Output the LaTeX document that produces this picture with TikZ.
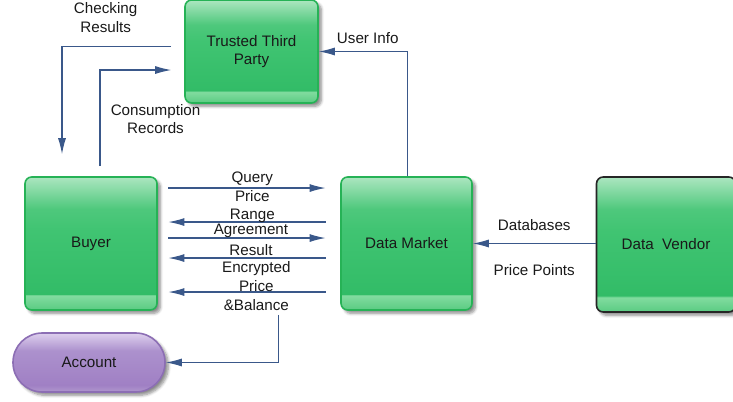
\documentclass[tikz,border=0pt]{standalone}
\usepackage{fontspec}
\setmainfont{Liberation Sans}
\usepackage{tikz}
\usetikzlibrary{arrows.meta, positioning, calc, shadows.blur}
\definecolor{flow_blue}{RGB}{58,88,138}
\colorlet{flowblue}{flow_blue}
\definecolor{box_green}{RGB}{38,178,86}
\colorlet{boxgreen}{box_green}
\definecolor{acc_purple}{RGB}{140,110,180}
\colorlet{accpurple}{acc_purple}
\pgfdeclareverticalshading{glossgreen}{100bp}{color(0bp)=(rgb,255:red,90;green,203;blue,130); color(25bp)=(rgb,255:red,90;green,203;blue,130); color(30.5bp)=(rgb,255:red,130;green,220;blue,160); color(31bp)=(rgb,255:red,50;green,188;blue,103); color(55bp)=(rgb,255:red,64;green,196;blue,114); color(63bp)=(rgb,255:red,78;green,200;blue,124); color(75bp)=(rgb,255:red,172;green,230;blue,192); color(100bp)=(rgb,255:red,172;green,230;blue,192)}
\pgfdeclareverticalshading{glosspurple}{100bp}{color(0bp)=(rgb,255:red,175;green,150;blue,205); color(25bp)=(rgb,255:red,175;green,150;blue,205); color(31bp)=(rgb,255:red,160;green,128;blue,196); color(60bp)=(rgb,255:red,172;green,145;blue,205); color(75bp)=(rgb,255:red,222;green,208;blue,238); color(100bp)=(rgb,255:red,222;green,208;blue,238)}
\newcommand{\diagfont}{\fontsize{11.4}{14}\selectfont}
\tikzset{
  block/.style={rectangle,rounded corners=5pt,draw=boxgreen,line width=1.2pt,shading=glossgreen,blur shadow={shadow xshift=2.5pt,shadow yshift=-2.5pt,shadow blur steps=6,shadow opacity=45},text=black!90,font=\diagfont,align=center},
  vendor/.style={block,draw=black!85},
  account/.style={rectangle,rounded corners=22pt,draw=accpurple,line width=1.2pt,shading=glosspurple,blur shadow={shadow xshift=2.5pt,shadow yshift=-2.5pt,shadow blur steps=6,shadow opacity=45},text=black!90,font=\diagfont,minimum width=114pt,minimum height=44.25pt},
  flow/.style={draw=flowblue,line width=0.8pt,-{Latex[length=12pt,width=6pt]}},
  msg/.style={font=\diagfont,text=black!90,align=center,inner sep=0pt},
}

\begin{document}
\begin{tikzpicture}[x=0.75pt,y=-0.75pt]
    \useasboundingbox (0,0) rectangle (733,402);
    \node[block,minimum width=99.75pt,minimum height=77.25pt] (TTP) at (251.5,51.5) {Trusted Third\\Party};
    \node[block,minimum width=99pt,minimum height=99.75pt] (BUYER) at (91,243.5) {Buyer};
    \node[block,minimum width=98.25pt,minimum height=99.75pt] (MARKET) at (406.5,243.5) {Data Market};
    \node[vendor,minimum width=104.25pt,minimum height=101.25pt] (VENDOR) at (666,244.5) {Data\ \ Vendor};
    \node[account] (ACCOUNT) at (89,362.5) {Account};
    \draw[flow] ([xshift=8pt,yshift=41.6pt]BUYER.east) -- node[msg,xshift=4pt,yshift=6.75pt] (QUERY) {Query} ([xshift=-11pt,yshift=41.6pt]MARKET.west);
    \draw[flow] ([xshift=-11pt,yshift=16.1pt]MARKET.west) -- node[msg,xshift=4pt,yshift=11.6pt] (RANGE) {Price\\Range} ([xshift=8pt,yshift=16.1pt]BUYER.east);
    \draw[flow] ([xshift=8pt,yshift=4.1pt]BUYER.east) -- node[msg,xshift=3pt,yshift=5.25pt] (AGREE) {Agreement} ([xshift=-11pt,yshift=4.1pt]MARKET.west);
    \draw[flow] ([xshift=-11pt,yshift=-10.9pt]MARKET.west) -- node[msg,xshift=3pt,yshift=6pt] (RESULT) {Result} ([xshift=8pt,yshift=-10.9pt]BUYER.east);
    \draw[flow] ([xshift=-11pt,yshift=-36.4pt]MARKET.west) -- node[msg,xshift=7pt,yshift=4.5pt] (PAY) {Encrypted\\Price\\\&Balance} ([xshift=8pt,yshift=-36.4pt]BUYER.east);
    \draw[flow] ([xshift=-9.75pt,yshift=3.4pt]TTP.west) -| node[msg,pos=0.3,yshift=22pt] (CHECK) {Checking\\Results} ([xshift=-21.75pt,yshift=16.5pt]BUYER.north);
    \draw[flow] ([xshift=6.75pt,yshift=7.5pt]BUYER.north) |- node[msg,pos=0.89,yshift=-36.75pt] (CONS) {Consumption\\Records} ([xshift=-9.75pt,yshift=-13.9pt]TTP.west);
    \draw[flow] ([xshift=1pt]MARKET.north) |- node[msg,pos=0.725,yshift=9.75pt] (USER) {User Info} (TTP.east);
    \draw[flow] (VENDOR.west |- MARKET.east) -- node[msg,yshift=13.5pt] (DB) {Databases} node[msg,yshift=-20.25pt] (PP) {Price Points} (MARKET.east);
    \coordinate (BAL) at ([xshift=-46.5pt,yshift=-3pt]MARKET.south west);
    \draw[flow] (BAL) |- (ACCOUNT.east);
\end{tikzpicture}
\end{document}
